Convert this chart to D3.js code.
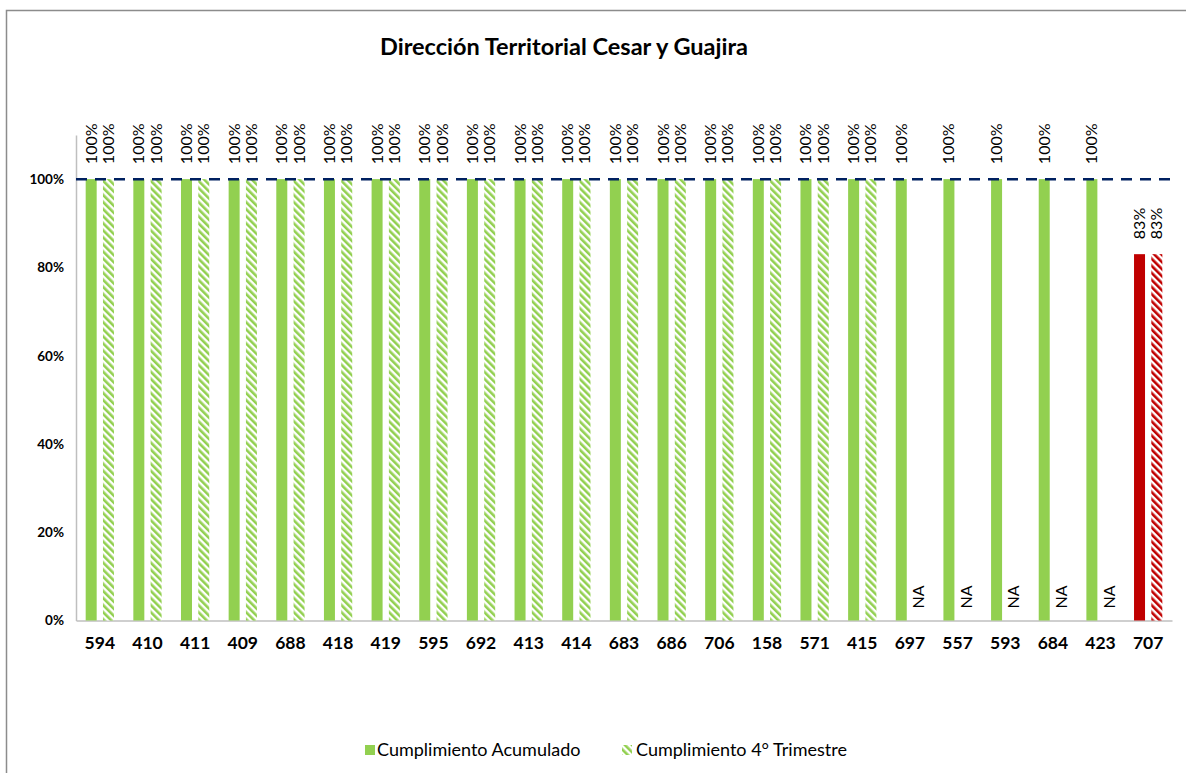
<!DOCTYPE html>
<html>
<head>
<meta charset="utf-8">
<script src="https://cdn.jsdelivr.net/npm/d3@7"></script>
<style>
  body { margin: 0; background: #fff; }
  text { font-family: Lato, "Open Sans", sans-serif; fill: #000; }
</style>
</head>
<body>
<div id="chart-area"></div>
<script>
// data
var categories = ["594","410","411","409","688","418","419","595","692","413","414","683","686","706","158","571","415","697","557","593","684","423","707"];
var acumulado = [100,100,100,100,100,100,100,100,100,100,100,100,100,100,100,100,100,100,100,100,100,100,83];
var trimestre = [100,100,100,100,100,100,100,100,100,100,100,100,100,100,100,100,100,null,null,null,null,null,83];
var yTicks = [0, 20, 40, 60, 80, 100];
var seriesNames = ["Cumplimiento Acumulado", "Cumplimiento 4° Trimestre"];
var meta = 100;

var W = 1186, H = 773;
var plot = { left: 76, right: 1172, top: 135, bottom: 620.5 };

var svg = d3.select("#chart-area")
    .append("svg")
        .attr("width", W)
        .attr("height", H);

// hatch patterns
var defs = svg.append("defs");
function hatch(id, color) {
    var p = defs.append("pattern")
        .attr("id", id)
        .attr("patternUnits", "userSpaceOnUse")
        .attr("width", 5)
        .attr("height", 5)
        .attr("patternTransform", "rotate(-45)");
    p.append("rect").attr("width", 5).attr("height", 5).attr("fill", "#fff");
    p.append("rect").attr("width", 2.6).attr("height", 5).attr("fill", color);
}
hatch("hatchGreen", "#92D050");
hatch("hatchRed", "#C00000");

// chart border
svg.append("rect")
    .attr("x", 6.5).attr("y", 10.5)
    .attr("width", 1300).attr("height", 900)
    .attr("fill", "none")
    .attr("stroke", "#8c8c8c")
    .attr("stroke-width", 1.5);

// title
svg.append("text")
    .attr("x", 564)
    .attr("y", 55)
    .attr("text-anchor", "middle")
    .attr("font-size", "23.5px")
    .attr("font-weight", "bold")
    .text("Dirección Territorial Cesar y Guajira");

// scales
var x = d3.scaleBand()
    .domain(categories)
    .range([plot.left, plot.right]);

var x1 = d3.scaleBand()
    .domain([0, 1])
    .range([0, x.step()])
    .paddingInner(0.364)
    .paddingOuter(0.56);

var y = d3.scaleLinear()
    .domain([0, 110])
    .range([plot.bottom, plot.top]);

// axes
var g = svg.append("g");

var yAxisCall = d3.axisLeft(y)
    .tickValues(yTicks)
    .tickSize(0)
    .tickPadding(12)
    .tickFormat(function(d){ return d + "%"; });
var yAxisGroup = g.append("g")
    .attr("transform", "translate(" + plot.left + ",0)")
    .call(yAxisCall);
yAxisGroup.select(".domain").attr("stroke", "#bfbfbf").attr("stroke-width", 1.5);
yAxisGroup.selectAll("text")
    .attr("font-size", "13.5px")
    .attr("font-weight", "bold")
    .attr("font-family", "Lato, sans-serif");

var xAxisCall = d3.axisBottom(x).tickSize(0).tickPadding(16);
var xAxisGroup = g.append("g")
    .attr("transform", "translate(0," + plot.bottom + ")")
    .call(xAxisCall);
xAxisGroup.select(".domain").attr("stroke", "#bfbfbf").attr("stroke-width", 1.5);
xAxisGroup.selectAll("text")
    .attr("font-size", "17.5px")
    .attr("font-weight", "bold")
    .attr("font-family", "Lato, sans-serif");

// bars
var rows = categories.map(function(c, i){
    return { cat: c, vals: [acumulado[i], trimestre[i]] };
});

function barFill(s, v) {
    if (v !== null && v < meta) return s === 0 ? "#C00000" : "url(#hatchRed)";
    return s === 0 ? "#92D050" : "url(#hatchGreen)";
}

var groups = g.selectAll(".grp")
    .data(rows)
    .enter().append("g")
        .attr("class", "grp")
        .attr("transform", function(d){ return "translate(" + x(d.cat) + ",0)"; });

var cells = groups.selectAll(".cell")
    .data(function(d){ return d.vals.map(function(v, s){ return { s: s, v: v }; }); })
    .enter().append("g")
        .attr("class", "cell");

cells.filter(function(d){ return d.v !== null; })
    .append("rect")
        .attr("x", function(d){ return x1(d.s); })
        .attr("width", x1.bandwidth())
        .attr("y", function(d){ return y(d.v); })
        .attr("height", function(d){ return y(0) - y(d.v); })
        .attr("fill", function(d){ return barFill(d.s, d.v); });

// data labels (rotated)
cells.append("text")
    .attr("transform", function(d){
        var cx = x1(d.s) + x1.bandwidth() / 2 + 5.5;
        var cy = d.v === null ? y(0) - 12 : y(d.v) - 15;
        return "translate(" + cx + "," + cy + ") rotate(-90)";
    })
    .attr("font-size", "16px")
    .attr("font-family", "Lato, sans-serif")
    .text(function(d){ return d.v === null ? "NA" : d.v + "%"; });

// meta line
g.append("line")
    .attr("x1", plot.left)
    .attr("x2", plot.right)
    .attr("y1", y(meta))
    .attr("y2", y(meta))
    .attr("stroke", "#002060")
    .attr("stroke-width", 2.5)
    .attr("stroke-dasharray", "11,8");

// legend
var legend = svg.append("g").attr("transform", "translate(365,751)");
var legendX = [0, 257];
seriesNames.forEach(function(name, i){
    var item = legend.append("g").attr("transform", "translate(" + legendX[i] + ",0)");
    item.append("rect")
        .attr("x", 0).attr("y", -6)
        .attr("width", 10).attr("height", 10)
        .attr("fill", i === 0 ? "#92D050" : "url(#hatchGreen)");
    item.append("text")
        .attr("x", i === 0 ? 12 : 14)
        .attr("y", 5)
        .attr("font-size", "18px")
        .text(name);
});
</script>
</body>
</html>
